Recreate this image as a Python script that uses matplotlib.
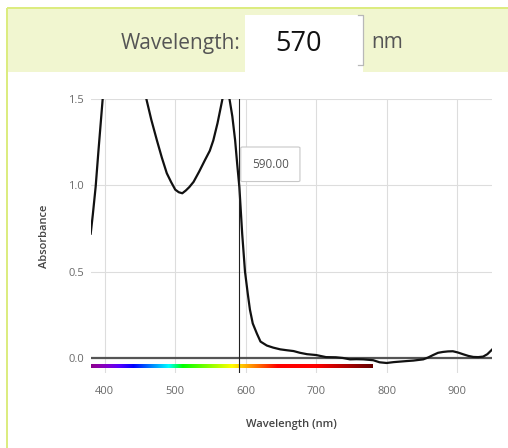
import numpy as np
import matplotlib
matplotlib.use("Agg")
import matplotlib.pyplot as plt
from matplotlib.patches import Rectangle, FancyBboxPatch

plt.rcParams['font.family'] = ['Open Sans', 'DejaVu Sans']

# absorbance spectrum (values above 1.5 are clipped anyway)
wavelength = [380, 383, 387, 391, 395, 400, 410, 425, 440, 450, 459, 466, 474, 481,
              488, 494, 500, 505, 510, 515, 520, 526, 534, 542, 549, 554, 560, 567,
              572, 577, 581, 585, 588, 591, 595, 599, 603, 606, 610, 616, 621, 630,
              639, 649, 658, 668, 677, 687, 700, 714, 728, 738, 748, 757, 767, 781,
              790, 800, 810, 819, 828, 838, 852, 859, 866, 873, 880, 887, 894, 901,
              909, 916, 923, 930, 937, 943, 950]
absorbance = [0.72, 0.83, 0.99, 1.2, 1.4, 1.65, 2.0, 2.25, 2.0, 1.7, 1.5, 1.38, 1.26, 1.16,
              1.07, 1.02, 0.975, 0.96, 0.954, 0.97, 0.99, 1.02, 1.08, 1.145, 1.2, 1.26, 1.36, 1.5,
              1.58, 1.5, 1.4, 1.26, 1.12, 0.99, 0.72, 0.5, 0.37, 0.28, 0.2, 0.14, 0.095, 0.072,
              0.06, 0.05, 0.045, 0.04, 0.03, 0.022, 0.017, 0.005, 0.004, 0.0, -0.008, -0.007, -0.008, -0.013,
              -0.025, -0.029, -0.024, -0.021, -0.018, -0.015, -0.008, 0.003, 0.017, 0.03, 0.035, 0.038, 0.039, 0.032,
              0.021, 0.012, 0.006, 0.005, 0.008, 0.022, 0.05]

selected_nm = 590
input_value = "570"
xticks = [400, 500, 600, 700, 800, 900]
yticks = [0.0, 0.5, 1.0, 1.5]


def wl_to_rgb(w):
    # rough visible-spectrum colour for the rainbow bar
    if w < 440:
        r, g, b = -(w - 440) / 60, 0.0, 1.0
    elif w < 490:
        r, g, b = 0.0, (w - 440) / 50, 1.0
    elif w < 510:
        r, g, b = 0.0, 1.0, -(w - 510) / 20
    elif w < 580:
        r, g, b = (w - 510) / 70, 1.0, 0.0
    elif w < 645:
        r, g, b = 1.0, -(w - 645) / 65, 0.0
    else:
        r, g, b = 1.0, 0.0, 0.0
    if w < 420:
        f = 0.55 + 0.45 * (w - 380) / 40
    elif w > 700:
        f = 0.4 + 0.6 * (780 - w) / 80
    else:
        f = 1.0
    return (r * f, g * f, b * f)


fig = plt.figure(figsize=(5.08, 4.48), dpi=100)
W, H = 508, 448

# header band and borders
fig.patches.append(Rectangle((7 / W, 1 - 72 / H), 1, 64 / H, transform=fig.transFigure,
                             facecolor='#f1f6d0', edgecolor='none', zorder=0))
fig.patches.append(Rectangle((7 / W, 1 - 9 / H), 1, 1.5 / H, transform=fig.transFigure,
                             facecolor='#dcec80', edgecolor='none', zorder=1))
fig.patches.append(Rectangle((6 / W, 0), 1.5 / W, 1 - 8 / H, transform=fig.transFigure,
                             facecolor='#dcec80', edgecolor='none', zorder=1))
# input box
fig.patches.append(Rectangle((245 / W, 1 - 72 / H), 118 / W, 57 / H, transform=fig.transFigure,
                             facecolor='white', edgecolor='none', zorder=2))
fig.lines.append(plt.Line2D([358 / W, 363 / W, 363 / W, 358 / W],
                            [1 - 15 / H, 1 - 15 / H, 1 - 65 / H, 1 - 65 / H],
                            transform=fig.transFigure, color='#b8b8b8', lw=0.9, zorder=3))
fig.text(240 / W, 1 - 43 / H, "Wavelength:", ha='right', va='center', fontsize=15, color='#555555')
fig.text(299 / W, 1 - 44 / H, input_value, ha='center', va='center', fontsize=19.5, color='#111111')
fig.text(371 / W, 1 - 43 / H, "nm", ha='left', va='center', fontsize=15, color='#555555')

ax = fig.add_axes([90.7 / W, 1 - 373 / H, (492.3 - 90.7) / W, (373 - 99) / H])
ax.set_xlim(380, 950)
ax.set_ylim(-0.087, 1.5)
for s in ax.spines.values():
    s.set_visible(False)
ax.set_xticks(xticks)
ax.set_yticks(yticks)
ax.set_yticklabels([f"{v:.1f}" for v in yticks])
ax.tick_params(length=0, labelsize=8, colors='#6a6a6a', pad=9)
ax.tick_params(axis='y', pad=5)
ax.grid(True, color='#dddddd', lw=0.8)
ax.set_axisbelow(True)

ax.axhline(0, color='#555555', lw=1.6, zorder=2)

# rainbow bar under the zero line
bar_wl = np.arange(380, 781)
bar = np.array([[wl_to_rgb(w) for w in bar_wl]])
ax.imshow(bar, extent=(380, 780, -0.057, -0.036), aspect='auto', zorder=2, interpolation='bilinear')
ax.set_xlim(380, 950)
ax.set_ylim(-0.087, 1.5)

ax.plot(wavelength, absorbance, color='#111111', lw=1.6, zorder=3, clip_on=True)
ax.axvline(selected_nm, color='#222222', lw=0.8, zorder=4)

# tooltip
box = FancyBboxPatch((593, 1.022), 84, 0.2, boxstyle='round,pad=0,rounding_size=3',
                     mutation_aspect=0.2 / 84 * 60 / 35 * 0.4, facecolor='white',
                     edgecolor='#c8c8c8', lw=0.8, zorder=5)
ax.add_patch(box)
ax.text(635, 1.122, f"{selected_nm:.2f}", ha='center', va='center', fontsize=8.5,
        color='#555555', zorder=6)

ax.set_xlabel("Wavelength (nm)", fontsize=8, fontweight='semibold', color='#444444', labelpad=16)
ax.set_ylabel("Absorbance", fontsize=8, fontweight='semibold', color='#444444', labelpad=13)

fig.savefig("out.png", dpi=100)
